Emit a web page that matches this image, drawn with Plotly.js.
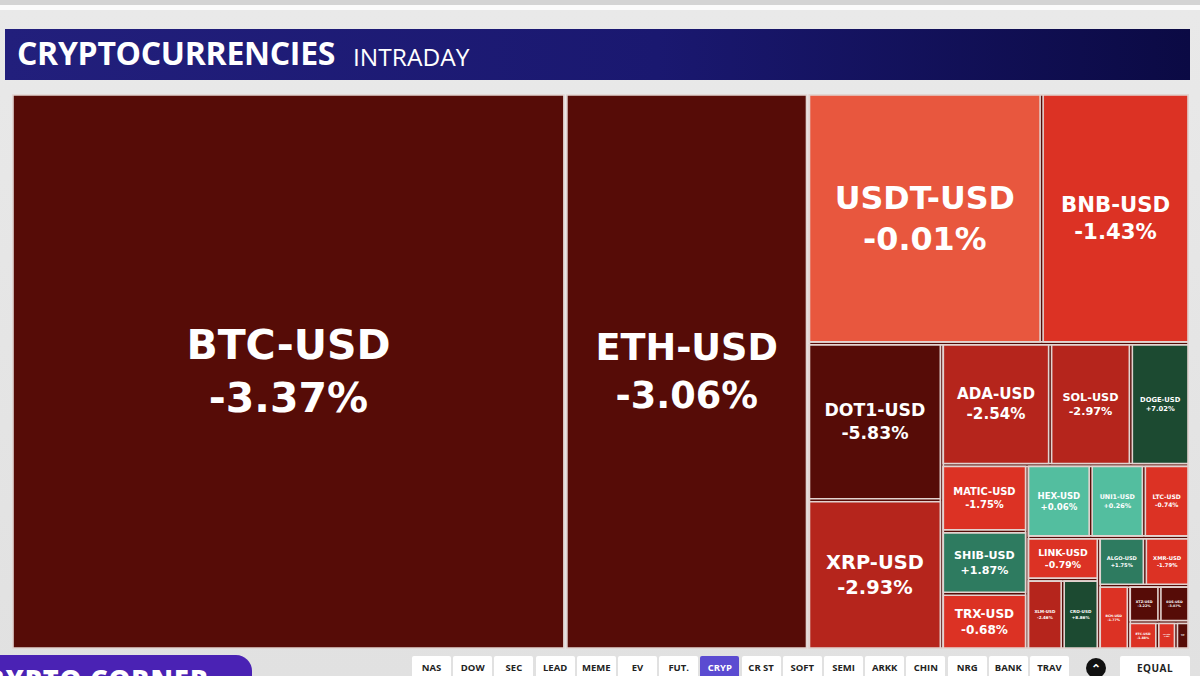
<!DOCTYPE html>
<html>
<head>
<meta charset="utf-8">
<script src="https://cdn.plot.ly/plotly-3.0.1.min.js"></script>
<style>
  html, body { margin: 0; padding: 0; }
  body {
    width: 1200px; height: 676px; overflow: hidden; position: relative;
    background: linear-gradient(180deg, #d4d4d4 0, #d4d4d4 5px, #fbfbfb 5px, #fbfbfb 10px, #e9e9e9 10px, #e1e1e1 100%);
    font-family: "Open Sans", sans-serif;
  }
  #chart { position: absolute; left: 0; top: 0; width: 1200px; height: 676px; }
  #header {
    position: absolute; left: 5px; top: 29px; width: 1185px; height: 51px;
    background: linear-gradient(90deg, #221f7c 0%, #1a1870 55%, #0b0a44 100%);
    color: #fff; white-space: nowrap;
  }
  #header .main { position: absolute; left: 12px; top: 2px; font-weight: 700; font-size: 32px; letter-spacing: -0.3px; }
  #header .sub { position: absolute; left: 348px; top: 11px; font-weight: 400; font-size: 24.5px; }
  #pill {
    position: absolute; left: 0; top: 655px; width: 252px; height: 30px;
    background: #4a22b4; border-top-right-radius: 16px; overflow: hidden;
  }
  #pill span { position: absolute; left: -32px; top: 5px; color: #fff; font-weight: 800; font-size: 27px; letter-spacing: 1px; }
  #buttons { position: absolute; left: 412px; top: 656px; height: 22px; }
  .btn {
    position: absolute; top: 0; height: 22px; width: 39px; background: #fff; border-radius: 2px;
    font-family: "Open Sans", sans-serif; font-weight: 700; font-size: 9.5px; color: #222;
    text-align: center; line-height: 24px;
  }
  .btn.on { background: #5b4bd1; color: #fff; }
  #chev {
    position: absolute; left: 1086px; top: 658px; width: 20px; height: 20px; border-radius: 50%;
    background: #111; color: #fff; text-align: center; font-size: 12px; font-weight: 700; line-height: 22px;
  }
  #equal {
    position: absolute; left: 1120px; top: 656px; width: 70px; height: 22px; background: #fff; border-radius: 2px;
    font-weight: 700; font-size: 10px; color: #222; text-align: center; line-height: 24px; letter-spacing: 0.5px;
  }
</style>
</head>
<body>
<div id="chart"></div>
<div id="header"><span class="main">CRYPTOCURRENCIES</span><span class="sub">INTRADAY</span></div>
<div id="pill"><span>CRYPTO CORNER</span></div>
<div id="buttons"></div>
<div id="chev">&#8963;</div>
<div id="equal">EQUAL</div>
<script>
// tickers, intraday % change and tile weight (relative market size read from tile areas)
const tickers = ['BTC-USD', 'ETH-USD', 'USDT-USD', 'BNB-USD', 'DOT1-USD', 'XRP-USD',
    'ADA-USD', 'SOL-USD', 'DOGE-USD', 'MATIC-USD', 'SHIB-USD', 'TRX-USD',
    'HEX-USD', 'UNI1-USD', 'LTC-USD', 'LINK-USD', 'XLM-USD', 'CRO-USD',
    'ALGO-USD', 'XMR-USD', 'BCH-USD', 'XTZ-USD', 'EOS-USD', 'ETC-USD', 'VET-USD', 'FIL-USD'];
const changes = [-3.37, -3.06, -0.01, -1.43, -5.83, -2.93,
    -2.54, -2.97, 7.02, -1.75, 1.87, -0.68,
    0.06, 0.26, -0.74, -0.79, -2.46, 8.86,
    1.75, -1.79, -1.77, -3.22, -3.07, -1.88, -1.06, -3.41];
const weights = [305500, 133800, 57900, 36650, 20830, 19820,
    13070, 9740, 7080, 5610, 5270, 4720,
    4570, 3820, 3280, 3000, 2470, 2500,
    2210, 2140, 1900, 1100, 1080, 780, 510, 370];
// block each ticker sits in (the grouping that reproduces the tile arrangement)
const tickerBlocks = ['', '', 'Rtop', 'Rtop', 'C1', 'C1',
    'C2a', 'C2a', 'C2a', 'MST', 'MST', 'MST',
    'HUL', 'HUL', 'HUL', 'LeftP', 'XC', 'XC',
    'AX', 'AX', 'Small', 'XE', 'XE', 'Tiny', 'Tiny', 'Tiny'];
const blocks = ['R', 'Rtop', 'Rbot', 'C1', 'C2', 'C2a', 'C2b', 'MST', 'Rest2', 'HUL',
    'Rest3', 'LeftP', 'XC', 'RightP', 'AX', 'Small', 'SmallR', 'XE', 'Tiny'];
const blockParents = ['', 'R', 'R', 'Rbot', 'Rbot', 'C2', 'C2', 'C2b', 'C2b', 'Rest2',
    'Rest2', 'Rest3', 'LeftP', 'Rest3', 'RightP', 'RightP', 'Small', 'SmallR', 'SmallR'];
const navButtons = ['NAS', 'DOW', 'SEC', 'LEAD', 'MEME', 'EV', 'FUT.', 'CRYP',
    'CR ST', 'SOFT', 'SEMI', 'ARKK', 'CHIN', 'NRG', 'BANK', 'TRAV'];

function colorFor(c) {
    if (c <= -3) return '#560c07';
    if (c <= -2) return '#b5251c';
    if (c <= -0.5) return '#dc3224';
    if (c < 0) return '#e8573e';
    if (c < 1) return '#53be9f';
    if (c < 3) return '#2e7b60';
    return '#1c4a31';
}

function fmt(c) {
    return (c > 0 ? '+' : '') + c.toFixed(2) + '%';
}

// a little breathing room so the auto-fitted labels don't touch the tile edges
const pad = '\u00a0\u00a0';

const ids = tickers.concat(blocks);
const parents = tickerBlocks.concat(blockParents);
const values = weights.concat(blocks.map(() => 0));
const labels = tickers.concat(blocks.map(() => ''));
const text = tickers.map((t, i) => '<b>' + pad + t + pad + '</b><br><b>' + fmt(changes[i]) + '</b>')
    .concat(blocks.map(() => ''));
const colors = changes.map(colorFor).concat(blocks.map(() => '#560c07'));

const trace = {
    type: 'treemap',
    ids: ids,
    labels: labels,
    parents: parents,
    values: values,
    text: text,
    textinfo: 'text',
    branchvalues: 'remainder',
    sort: false,
    tiling: { packing: 'slice-dice' },
    marker: {
        colors: colors,
        line: { width: 1.6, color: '#e2d3d0' },
        pad: { t: 0, l: 0, r: 0, b: 0 }
    },
    textfont: { family: 'DejaVu Sans', size: 41, color: '#ffffff' },
    textposition: 'middle center',
    pathbar: { visible: false },
    hoverinfo: 'none'
};

const layout = {
    width: 1200,
    height: 676,
    margin: { l: 13, r: 12, t: 95, b: 28 },
    paper_bgcolor: 'rgba(0,0,0,0)',
    showlegend: false
};

Plotly.newPlot('chart', [trace], layout, { displayModeBar: false, staticPlot: true });

// bottom navigation strip
const bar = document.getElementById('buttons');
navButtons.forEach((b, i) => {
    const d = document.createElement('div');
    d.className = 'btn' + (b === 'CRYP' ? ' on' : '');
    d.style.left = (i * 41.2) + 'px';
    d.textContent = b;
    bar.appendChild(d);
});
</script>
</body>
</html>
